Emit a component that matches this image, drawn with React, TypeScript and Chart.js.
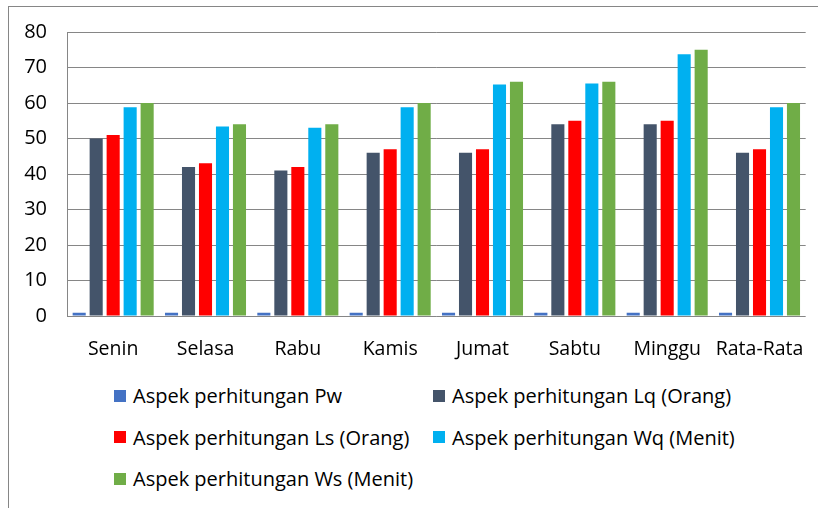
import React, { useEffect, useRef } from "react";
import { Chart, registerables } from "chart.js";

Chart.register(...registerables);

const categories = ["Senin", "Selasa", "Rabu", "Kamis", "Jumat", "Sabtu", "Minggu", "Rata-Rata"];
const seriesNames = [
  "Aspek perhitungan Pw",
  "Aspek perhitungan Lq (Orang)",
  "Aspek perhitungan Ls (Orang)",
  "Aspek perhitungan Wq (Menit)",
  "Aspek perhitungan Ws (Menit)",
];
const pwValues = [0.9, 0.9, 0.9, 0.9, 0.9, 0.9, 0.9, 0.9];
const lqValues = [50, 42, 41, 46, 46, 54, 54, 46];
const lsValues = [51, 43, 42, 47, 47, 55, 55, 47];
const wqValues = [58.8, 53.4, 53, 58.8, 65.2, 65.5, 73.7, 58.8];
const wsValues = [60, 54, 54, 60, 66, 66, 75, 60];
const yTicks = [0, 10, 20, 30, 40, 50, 60, 70, 80];
const colors = ["#4472C4", "#44546A", "#FF0000", "#00B0F0", "#70AD47"];

const FONT = "'Open Sans', Lato, sans-serif";

export default function App() {
  const ref = useRef<HTMLCanvasElement | null>(null);
  useEffect(() => {
    if (!ref.current) return;
    const all = [pwValues, lqValues, lsValues, wqValues, wsValues];
    const chart = new Chart(ref.current, {
      type: "bar",
      data: {
        labels: categories,
        datasets: all.map((d, i) => ({
          label: seriesNames[i],
          data: d,
          backgroundColor: colors[i],
          borderWidth: 0,
          categoryPercentage: 0.92,
          barPercentage: 0.77,
        })),
      },
      options: {
        responsive: false,
        animation: false,
        layout: { padding: { left: 0, right: 11, top: 32, bottom: 0 } },
        plugins: { legend: { display: false }, tooltip: { enabled: false } },
        scales: {
          x: {
            grid: { display: false },
            border: { display: false },
            ticks: { color: "#000", font: { family: FONT, size: 19.5 }, padding: 14, maxRotation: 0 },
            afterFit: (s: any) => { s.height = 54; },
          },
          y: {
            min: 0,
            max: 80,
            afterBuildTicks: (s: any) => { s.ticks = yTicks.map((v) => ({ value: v })); },
            grid: { color: "#868686", lineWidth: 1, drawTicks: false },
            border: { display: true, color: "#868686" },
            ticks: { color: "#000", font: { family: FONT, size: 20 }, padding: 20 },
            afterFit: (s: any) => { s.width = 67; },
          },
        },
      },
    });
    return () => chart.destroy();
  }, []);

  const legendItem = (i: number) => (
    <div key={i} style={{ display: "flex", alignItems: "center", height: 41.5 }}>
      <span style={{ width: 12, height: 12, background: colors[i], display: "inline-block", marginRight: 7 }} />
      <span>{seriesNames[i]}</span>
    </div>
  );

  return (
    <div style={{ position: "fixed", left: 0, top: 0, width: 818, height: 508, background: "#fff", overflow: "hidden" }}>
      <div style={{ position: "absolute", left: 8, top: 6, width: 900, height: 600, borderLeft: "1px solid #868686", borderTop: "1px solid #868686" }} />
      <canvas ref={ref} width={818} height={370} style={{ position: "absolute", left: 0, top: 0 }} />
      <div
        style={{
          position: "absolute",
          left: 114,
          top: 375,
          display: "grid",
          gridTemplateColumns: "319px 370px",
          fontFamily: FONT,
          fontSize: 20,
          color: "#000",
        }}
      >
        {[0, 1, 2, 3, 4].map((i) => legendItem(i))}
      </div>
    </div>
  );
}
